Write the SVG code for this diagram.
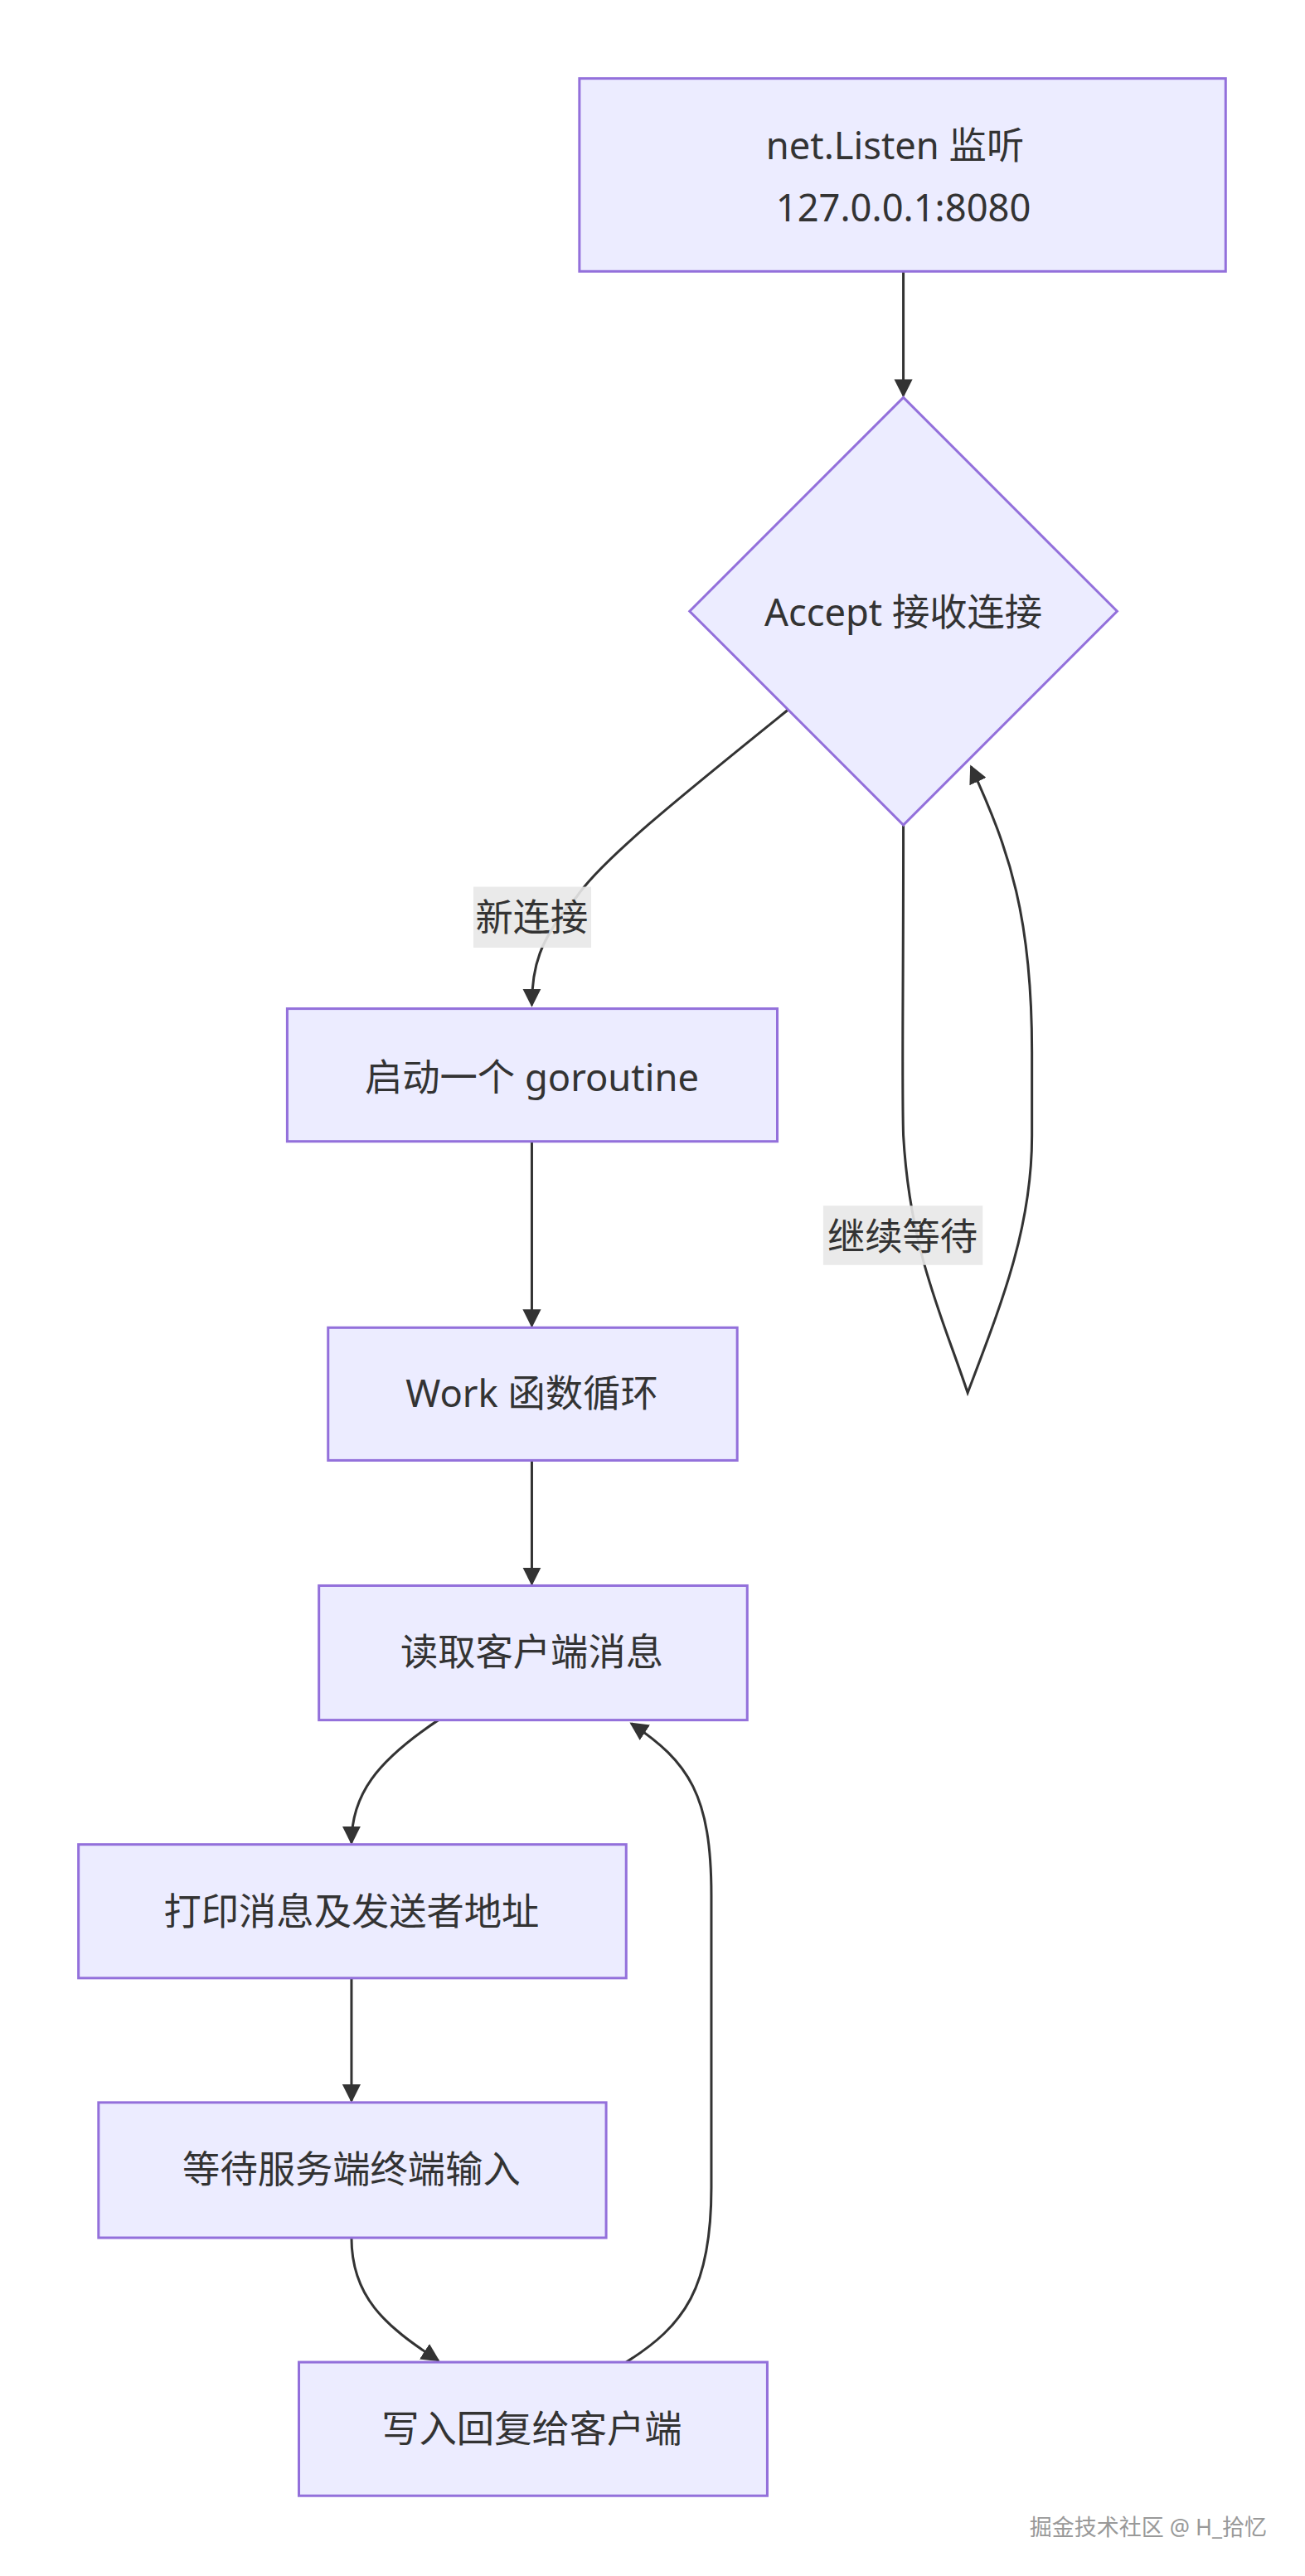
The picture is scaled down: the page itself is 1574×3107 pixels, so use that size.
<svg xmlns="http://www.w3.org/2000/svg" width="1574" height="3107" viewBox="0 0 1574 3107">
<defs>
<marker id="ah" viewBox="0 0 10 10" refX="9" refY="5" markerWidth="22" markerHeight="22" markerUnits="userSpaceOnUse" orient="auto"><path d="M0,0 L10,5 L0,10 z" fill="#333"/></marker>
<style>
.n{fill:#ECECFF;stroke:#9370DB;stroke-width:3}
.t{font-family:"Noto Sans","Noto Sans CJK SC",sans-serif;font-size:45px;fill:#333;text-anchor:middle;dominant-baseline:central}
.e{fill:none;stroke:#333;stroke-width:3}
.lb{fill:#e8e8e8;opacity:0.9}
</style>
</defs>
<rect width="1574" height="3107" fill="#fff"/>
<g transform="scale(1.007,1.0071)">
<g id="connectors">
<path class="e" d="M1082,325 L1082,474" marker-end="url(#ah)"/>
<path class="e" d="M944,850 C820,950 720,1030 690,1075 C645,1125 637,1160 637,1204" marker-end="url(#ah)"/>
<path class="e" d="M1082,988 C1082,1200 1080,1300 1082,1360 C1090,1500 1130,1580 1159,1668 C1200,1560 1236,1470 1236,1360 L1236,1260 C1236,1100 1210,1020 1163,918" marker-end="url(#ah)"/>
<path class="e" d="M637,1367 L637,1588" marker-end="url(#ah)"/>
<path class="e" d="M637,1749 L637,1897" marker-end="url(#ah)"/>
<path class="e" d="M525,2060 C450,2110 421,2150 421,2207" marker-end="url(#ah)"/>
<path class="e" d="M421,2369 L421,2516" marker-end="url(#ah)"/>
<path class="e" d="M421,2680 C421,2750 460,2785 525,2827" marker-end="url(#ah)"/>
<path class="e" d="M750,2829 C820,2785 852,2740 852,2620 L852,2270 C852,2150 825,2110 756,2064" marker-end="url(#ah)"/>
<rect class="lb" x="567" y="1062" width="141" height="73"/>
<text class="t" x="637" y="1098">新连接</text>
<rect class="lb" x="986" y="1444" width="191" height="71"/>
<text class="t" x="1081" y="1480">继续等待</text>
</g>
<g id="n1"><rect class="n" x="694" y="94" width="774" height="231"/><text class="t" x="1072" y="173">net.Listen 监听</text><text class="t" x="1082" y="248">127.0.0.1:8080</text></g>
<g id="n2"><polygon class="n" points="1082,476 1338,732 1082,988 826,732"/><text class="t" x="1082" y="732">Accept 接收连接</text></g>
<g id="n3"><rect class="n" x="344" y="1208" width="587" height="159"/><text class="t" x="637" y="1289">启动一个 goroutine</text></g>
<g id="n4"><rect class="n" x="393" y="1590" width="490" height="159"/><text class="t" x="637" y="1668">Work 函数循环</text></g>
<g id="n5"><rect class="n" x="382" y="1899" width="513" height="161"/><text class="t" x="637" y="1977">读取客户端消息</text></g>
<g id="n6"><rect class="n" x="94" y="2209" width="656" height="160"/><text class="t" x="421" y="2288">打印消息及发送者地址</text></g>
<g id="n7"><rect class="n" x="118" y="2518" width="608" height="162"/><text class="t" x="421" y="2597">等待服务端终端输入</text></g>
<g id="n8"><rect class="n" x="358" y="2829" width="561" height="160"/><text class="t" x="637" y="2908">写入回复给客户端</text></g>
</g>
<text x="1528" y="3047" font-family="Noto Sans,Noto Sans CJK SC,sans-serif" font-size="27" fill="#999" text-anchor="end" dominant-baseline="central">掘金技术社区 @ H_拾忆</text>
</svg>
